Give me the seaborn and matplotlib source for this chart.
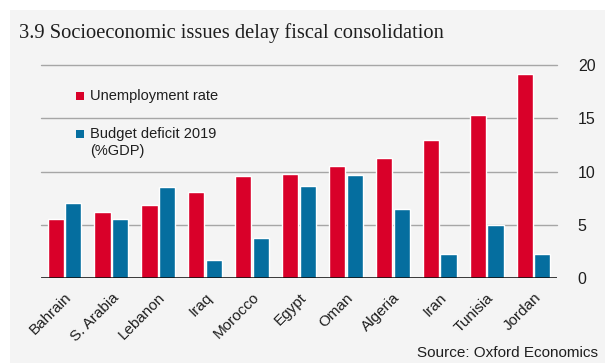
import matplotlib
matplotlib.use("Agg")
import matplotlib.pyplot as plt
from matplotlib.patches import Rectangle
import seaborn as sns
import pandas as pd

countries = ["Bahrain", "S. Arabia", "Lebanon", "Iraq", "Morocco", "Egypt",
             "Oman", "Algeria", "Iran", "Tunisia", "Jordan"]
unemployment = [5.5, 6.2, 6.9, 8.1, 9.6, 9.8, 10.5, 11.3, 13.0, 15.3, 19.2]
deficit = [7.0, 5.5, 8.5, 1.7, 3.75, 8.6, 9.7, 6.5, 2.25, 5.0, 2.3]
series_names = ["Unemployment rate", "Budget deficit 2019\n(%GDP)"]
yticks = [0, 5, 10, 15, 20]

df = pd.DataFrame({
    "country": countries * 2,
    "value": unemployment + deficit,
    "series": [series_names[0]] * len(countries) + [series_names[1]] * len(countries),
})

sns.set_theme(style="white")
plt.rcParams["font.family"] = ["Liberation Sans", "DejaVu Sans"]

bg = "#f4f4f4"
red = "#d90029"
blue = "#056e9f"
txt = "#1e1e1e"
W, H = 605, 363

fig = plt.figure(figsize=(W / 100, H / 100), dpi=100, facecolor="white")
fig.patches.append(Rectangle((10 / W, 0), 1, 1 - 10 / H, transform=fig.transFigure,
                             facecolor=bg, edgecolor="none", zorder=-10))

ax = fig.add_axes([41 / W, 85 / H, 516 / W, 213 / H])
ax.set_facecolor(bg)

sns.barplot(data=df, x="country", y="value", hue="series", order=countries,
            hue_order=series_names, palette=[red, blue], width=0.75, gap=0.08,
            saturation=1, ax=ax, legend=False)

ax.set_ylim(0, 20)
ax.set_xlim(-0.5, len(countries) - 0.5)
ax.set_yticks(yticks)
ax.set_yticklabels([str(v) for v in yticks])
for v in yticks[1:]:
    ax.axhline(v, color="#a6a6a6", lw=1.0, zorder=0, clip_on=False)
ax.axhline(0, color="black", lw=1.8, zorder=5)

for s in ax.spines.values():
    s.set_visible(False)

ax.set_xlabel("")
ax.set_ylabel("")
ax.yaxis.tick_right()
ax.tick_params(axis="y", length=0, pad=15, labelsize=11.5, labelcolor=txt)
ax.tick_params(axis="x", length=0, pad=9, labelsize=11, labelcolor=txt)
for lab in ax.get_xticklabels():
    lab.set_rotation(45)
    lab.set_ha("right")
    lab.set_va("top")
    lab.set_rotation_mode("anchor")

# Legend: colour squares with their labels, placed in figure pixels
legend_rows = [(red, series_names[0], 96), (blue, series_names[1], 134)]
for color, label, yc in legend_rows:
    fig.patches.append(Rectangle((76 / W, 1 - (yc + 4) / H), 8 / W, 8 / H,
                                 transform=fig.transFigure, facecolor=color,
                                 edgecolor="none", zorder=10))
    fig.text(90 / W, 1 - yc / H, label.split("\n")[0], fontsize=10.5, color=txt,
             ha="left", va="center")
    for i, extra in enumerate(label.split("\n")[1:], start=1):
        fig.text(90 / W, 1 - (yc + 17 * i) / H, extra, fontsize=10.5, color=txt,
                 ha="left", va="center")

fig.text(19 / W, 1 - 38 / H, "3.9 Socioeconomic issues delay fiscal consolidation",
         family=["Liberation Serif", "DejaVu Serif"], fontsize=14.8, color=txt,
         va="baseline", ha="left")
fig.text(598 / W, 1 - 353 / H, "Source: Oxford Economics", fontsize=11,
         color=txt, ha="right", va="center")

fig.savefig("out.png", dpi=100, facecolor="white")
